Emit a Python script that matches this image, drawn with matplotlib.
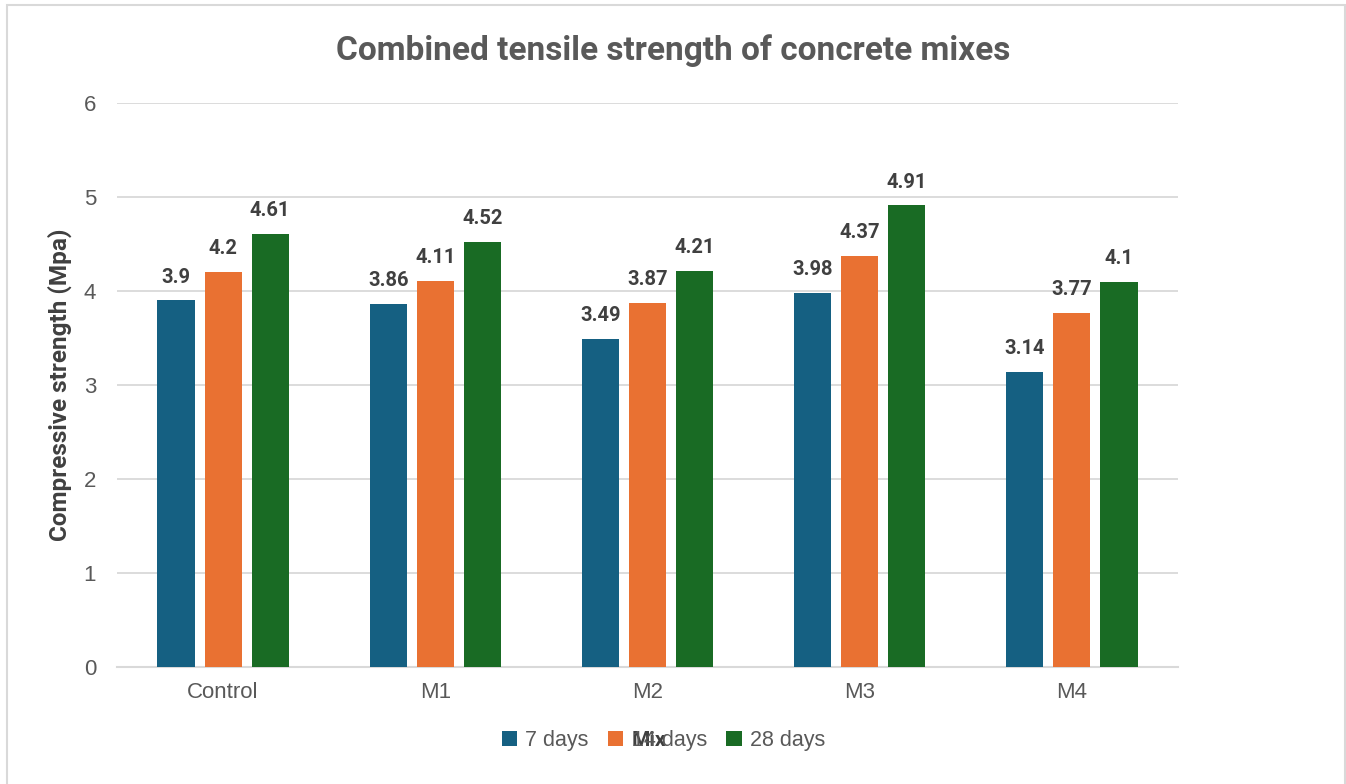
import matplotlib
matplotlib.use("Agg")
import matplotlib.pyplot as plt
import numpy as np

mixes = ["Control", "M1", "M2", "M3", "M4"]
series_names = ["7 days", "14 days", "28 days"]
days_7 = [3.9, 3.86, 3.49, 3.98, 3.14]
days_14 = [4.2, 4.11, 3.87, 4.37, 3.77]
days_28 = [4.61, 4.52, 4.21, 4.91, 4.1]
colors = ["#156082", "#E97132", "#196B24"]

bold_font = "Roboto"
body_font = "Liberation Sans"

fig = plt.figure(figsize=(13.46, 7.84), dpi=100)
ax = fig.add_axes([0.0869, 0.1492, 0.7883, 0.7194])

x = np.arange(len(mixes))
step = 0.222
width = 0.175
for i, (vals, name) in enumerate(zip([days_7, days_14, days_28], series_names)):
    pos = x + (i - 1) * step
    bars = ax.bar(pos, vals, width=width, color=colors[i], label=name, zorder=3)
    for b, v in zip(bars, vals):
        ax.annotate(f"{v:g}", (b.get_x() + b.get_width() / 2, v),
                    xytext=(0, 10), textcoords="offset points",
                    ha="center", va="bottom", fontsize=14.5, fontweight="bold",
                    color="#404040", family=bold_font)

ax.set_ylim(0, 6)
ax.set_xlim(-0.5, len(mixes) - 0.5)
ax.set_yticks(range(0, 7))
ax.set_xticks(x)
ax.set_xticklabels(mixes)
ax.grid(axis="y", color="#d9d9d9", linewidth=1.3, zorder=0)
for s in ["top", "right", "left"]:
    ax.spines[s].set_visible(False)
ax.spines["bottom"].set_color("#d9d9d9")
ax.spines["bottom"].set_linewidth(1.5)
ax.tick_params(axis="both", length=0, labelsize=16, labelcolor="#595959")
for lbl in ax.get_xticklabels() + ax.get_yticklabels():
    lbl.set_family(body_font)
ax.tick_params(axis="y", pad=15)
ax.tick_params(axis="x", pad=11)

ax.set_ylabel("Compressive strength (Mpa)", fontsize=17.5, fontweight="bold",
              color="#404040", family=bold_font)
ax.yaxis.set_label_coords(-0.042, 0.5)
fig.text(0.5, 0.935, "Combined tensile strength of concrete mixes",
         ha="center", va="center", fontsize=24, fontweight="bold",
         color="#595959", family=bold_font)

leg = fig.legend(loc="center", bbox_to_anchor=(0.493, 0.055), ncol=3,
                 frameon=False, prop={"family": body_font, "size": 15.5},
                 handlelength=0.7, handleheight=0.7, handletextpad=0.4,
                 columnspacing=0.9)
for t in leg.get_texts():
    t.set_color("#595959")
fig.text(0.482, 0.056, "Mix", ha="center", va="center", fontsize=15,
         fontweight="bold", color="#404040", family=bold_font)

border = plt.Rectangle((0.005, -0.01), 0.994, 1.004, transform=fig.transFigure,
                       fill=False, edgecolor="#d9d9d9", linewidth=1.5)
fig.patches.append(border)

fig.savefig("out.png", dpi=100, facecolor="white")
